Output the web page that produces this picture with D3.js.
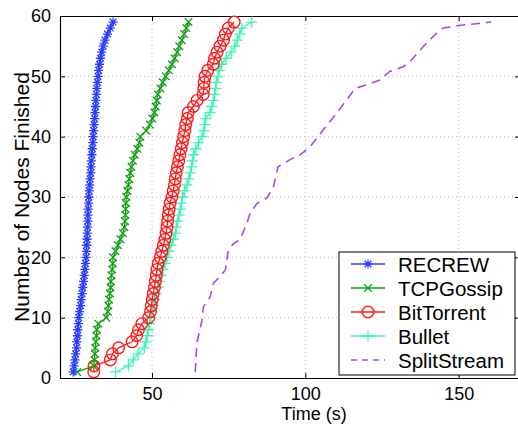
<!DOCTYPE html>
<html>
<head>
<meta charset="UTF-8">
<script src="https://d3js.org/d3.v7.min.js"></script>
<style>
  body { margin: 0; background: #fff; }
  text { font-family: "Liberation Sans", Arial, sans-serif; fill: #000; }
</style>
</head>
<body>
<div id="chart"></div>
<script>
// number of nodes finished (y) for the marker series
const nodeCounts = [1,2,3,4,5,6,7,8,9,10,11,12,13,14,15,16,17,18,19,20,
  21,22,23,24,25,26,27,28,29,30,31,32,33,34,35,36,37,38,39,40,
  41,42,43,44,45,46,47,48,49,50,51,52,53,54,55,56,57,58,59];

// finish times (s)
const recrewTime = [24.3,24.6,24.9,25.1,25.4,25.5,25.7,25.8,26.0,26.1,
  26.4,26.7,26.9,27.2,27.4,27.7,27.9,28.1,28.3,28.5,
  28.6,28.7,28.8,28.9,29.0,29.1,29.1,29.2,29.3,29.4,
  29.5,29.7,29.8,30.0,30.1,30.2,30.4,30.5,30.7,30.8,
  31.0,31.1,31.3,31.4,31.6,31.7,31.9,32.0,32.2,32.4,
  32.6,32.9,33.2,33.6,34.1,34.7,35.5,36.4,37.3];
const tcpTime = [25.6,31.0,31.2,31.4,31.5,31.7,31.9,32.0,32.5,35.1,
  35.6,35.8,36.0,36.3,36.5,36.6,36.8,37.0,37.2,37.3,
  38.1,38.9,39.7,40.5,41.0,41.2,41.3,41.4,41.5,41.6,
  42.0,42.3,42.6,42.9,43.3,43.8,44.4,45.2,45.9,46.2,
  48.1,49.3,50.1,50.8,51.2,51.6,51.9,52.7,53.5,54.5,
  55.5,56.5,57.4,58.2,58.9,59.7,60.5,61.2,61.9];
const bitTime = [31.0,31.1,36.4,37.1,39.1,43.5,45.0,45.6,46.7,48.9,
  49.5,49.8,50.1,50.4,50.8,51.1,51.4,51.6,52.0,52.7,
  53.2,53.7,54.2,54.6,54.9,55.1,55.3,55.6,55.9,56.5,
  56.9,57.3,57.6,57.9,58.3,58.7,59.1,59.5,59.9,60.3,
  60.7,61.0,61.5,61.8,63.5,64.7,66.7,66.9,67.0,67.3,
  68.2,70.0,70.4,71.2,72.2,73.3,73.9,74.9,76.8];
const bulletTime = [38.1,42.3,43.9,45.5,47.5,48.0,48.5,48.8,49.2,49.6,
  49.9,50.4,50.9,51.4,51.9,52.4,52.9,53.6,54.3,54.9,
  55.5,56.2,56.9,57.6,57.9,58.4,58.8,59.2,59.6,59.9,
  60.6,61.4,62.0,62.5,62.9,63.2,63.6,64.3,65.2,66.3,
  66.9,67.2,67.5,68.9,69.5,70.0,70.4,70.8,71.0,71.5,
  71.9,72.7,74.2,75.8,77.0,77.8,78.6,79.3,82.5];

// SplitStream is drawn as a dashed line only
const splitTime = [64.1,64.6,66.3,66.8,69.0,70.0,72.2,73.9,74.9,76.6,
  78.7,80.9,82.0,84.2,87.4,89.6,91.1,95.0,98.3,101.5,
  105.8,110.2,113.5,116.2,120.0,124.3,127.5,131.9,134.1,138.4,
  142.7,144.9,151.4,160.6];
const splitNodes = [1,5.7,9.6,11.8,13.5,15.7,16.8,17.9,21.2,22.3,
  22.9,25.6,27.3,28.9,29.8,31.7,35,36.2,37,38.3,
  41.1,43.9,46.1,48,48.6,49.4,50.8,51.6,52.4,54.9,
  57.1,58,58.5,59];

const xTicks = [50, 100, 150];
const yTicks = [0, 10, 20, 30, 40, 50, 60];

const seriesNames = ["RECREW", "TCPGossip", "BitTorrent", "Bullet", "SplitStream"];
const seriesColors = ["#2a3cff", "#129e12", "#ff1a1a", "#3df5b4", "#a848f0"];
const seriesMarkers = ["star", "cross", "circle", "plus", "none"];

const W = 518, H = 426;
const margin = {top: 16, right: -2, bottom: 48, left: 60};
const width = W - margin.left - margin.right,
      height = H - margin.top - margin.bottom;

const svg = d3.select("#chart").append("svg")
    .attr("width", W).attr("height", H);
const g = svg.append("g")
    .attr("transform", `translate(${margin.left},${margin.top})`);

const x = d3.scaleLinear().domain([20, 170]).range([0, width]);
const y = d3.scaleLinear().domain([0, 60]).range([height, 0]);

// dotted grid
g.append("g").selectAll("line").data(xTicks).join("line")
    .attr("x1", d => x(d)).attr("x2", d => x(d))
    .attr("y1", 0).attr("y2", height)
    .attr("stroke", "#b8b8b8").attr("stroke-width", 1)
    .attr("stroke-dasharray", "1,3");
g.append("g").selectAll("line").data(yTicks.slice(1, -1)).join("line")
    .attr("x1", 0).attr("x2", width)
    .attr("y1", d => y(d)).attr("y2", d => y(d))
    .attr("stroke", "#b8b8b8").attr("stroke-width", 1)
    .attr("stroke-dasharray", "1,3");

// axes, ticks pointing inwards like matlab
g.append("g").attr("transform", `translate(0,${height})`)
    .call(d3.axisBottom(x).tickValues(xTicks).tickSizeInner(-5).tickSizeOuter(0).tickPadding(9));
g.append("g")
    .call(d3.axisLeft(y).tickValues(yTicks).tickSizeInner(-5).tickSizeOuter(0).tickPadding(9));
g.append("g")
    .call(d3.axisTop(x).tickValues(xTicks).tickSizeInner(-5).tickSizeOuter(0).tickFormat(""));
g.append("g").attr("transform", `translate(${width},0)`)
    .call(d3.axisRight(y).tickValues(yTicks).tickSizeInner(-5).tickSizeOuter(0).tickFormat(""));
g.selectAll(".domain").attr("stroke", "#000").attr("stroke-width", 1.2);
g.selectAll(".tick line").attr("stroke", "#000");
g.selectAll(".tick text").style("font-size", "18px");

// axis labels
svg.append("text")
    .attr("x", 314).attr("y", 420)
    .attr("text-anchor", "middle").style("font-size", "18px")
    .text("Time (s)");
svg.append("text")
    .attr("transform", `translate(29,${margin.top + height / 2}) rotate(-90)`)
    .attr("text-anchor", "middle").style("font-size", "21px")
    .text("Number of Nodes Finished");

// marker shapes
function markerPath(kind, s) {
  const d = s * 0.72;
  if (kind === "star") return `M${-s},0H${s}M0,${-s}V${s}M${-d},${-d}L${d},${d}M${-d},${d}L${d},${-d}`;
  if (kind === "cross") return `M${-s},${-s}L${s},${s}M${-s},${s}L${s},${-s}`;
  if (kind === "plus") return `M${-s},0H${s}M0,${-s}V${s}`;
  return "";
}
function drawMarker(sel, kind, color) {
  if (kind === "circle") {
    sel.append("circle").attr("r", 5.8).attr("fill", "none")
        .attr("stroke", color).attr("stroke-width", 1.4);
  } else if (kind !== "none") {
    const s = kind === "plus" ? 5.5 : (kind === "cross" ? 3.8 : 4.6);
    sel.append("path").attr("d", markerPath(kind, s)).attr("fill", "none")
        .attr("stroke", color).attr("stroke-width", 1.3);
  }
}

const line = d3.line().x(d => x(d[0])).y(d => y(d[1]));
const plotArea = g.append("g");

const markerSeries = [recrewTime, tcpTime, bitTime, bulletTime];
[3, 2, 1, 0].forEach(i => {
  const pts = markerSeries[i].map((t, k) => [t, nodeCounts[k]]);
  const sg = plotArea.append("g");
  sg.append("path").datum(pts).attr("d", line)
      .attr("fill", "none").attr("stroke", seriesColors[i]).attr("stroke-width", 1.3);
  sg.selectAll("g.m").data(pts).join("g").attr("class", "m")
      .attr("transform", d => `translate(${x(d[0])},${y(d[1])})`)
      .each(function() { drawMarker(d3.select(this), seriesMarkers[i], seriesColors[i]); });
});
const splitPts = splitTime.map((t, k) => [t, splitNodes[k]]);
plotArea.append("path").datum(splitPts).attr("d", line)
    .attr("fill", "none").attr("stroke", seriesColors[4]).attr("stroke-width", 1.6)
    .attr("stroke-dasharray", "9,6");

// legend
const lg = svg.append("g").attr("transform", "translate(339,252)");
lg.append("rect").attr("width", 176).attr("height", 123)
    .attr("fill", "#fff").attr("stroke", "#000").attr("stroke-width", 1);
seriesNames.forEach((name, i) => {
  const row = lg.append("g").attr("transform", `translate(0,${12 + i * 24})`);
  row.append("line").attr("x1", 12).attr("x2", 46).attr("y1", 0).attr("y2", 0)
      .attr("stroke", seriesColors[i]).attr("stroke-width", i === 4 ? 1.6 : 1.3)
      .attr("stroke-dasharray", i === 4 ? "6,5" : null);
  const m = row.append("g").attr("transform", "translate(29,0)");
  drawMarker(m, seriesMarkers[i], seriesColors[i]);
  row.append("text").attr("x", 59).attr("y", 7.5)
      .style("font-size", "20.5px").text(name);
});
</script>
</body>
</html>
